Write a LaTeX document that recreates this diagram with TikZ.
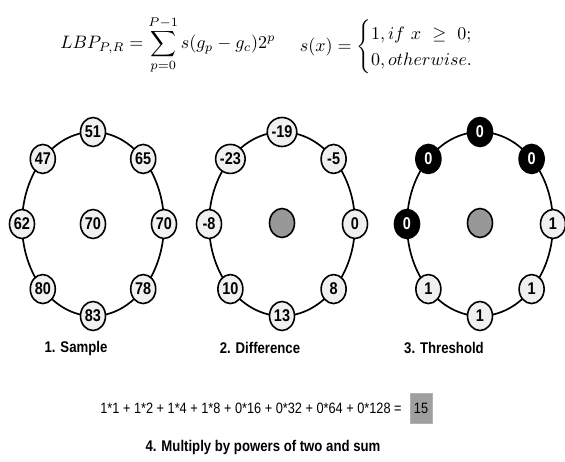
\documentclass[tikz,border=0pt]{standalone}
\usepackage{amsmath}
\usepackage{fontspec}
\newfontfamily\lblfont{Liberation Sans}[FakeStretch=0.85]
\usetikzlibrary{shapes.geometric,positioning}
\begin{document}
\begin{tikzpicture}[x=1pt,y=-1pt,
    ring/.style={draw,line width=1.7pt},
    pix/.style={ellipse,draw,line width=1.6pt,fill=gray!12,minimum width=25pt,
        minimum height=29pt,inner sep=0pt,font=\lblfont\bfseries\fontsize{17}{17}\selectfont},
    pixoff/.style={pix,fill=black,text=white},
    pixmid/.style={pix,fill=gray!85!black!70},
    steplbl/.style={font=\lblfont\bfseries\fontsize{15.5}{16}\selectfont},
    formula/.style={scale=#1,transform shape},
    resbox/.style={draw=gray!60,fill=gray!75,minimum width=22pt,minimum height=30pt,
        inner sep=0pt,font=\lblfont\fontsize{15}{16}\selectfont}]
    \useasboundingbox (0,0) rectangle (565,462);
    \def\rx{71}
    \def\ry{92}
    % formula
    \node[formula=1.8] (lbp) at (168,45)
        {$\displaystyle LBP_{P,R}=\sum_{p=0}^{P-1}s(g_p-g_c)2^p$};
    \node[formula=1.8] (sx) at (396,47)
        {$s(x)=\begin{cases}1, if\ x\ \geq\ 0;\\ 0, otherwise.\end{cases}$};
    % 1. sample
    \draw[ring] (93,224) ellipse ({\rx} and {\ry});
    \node[pix] (sc) at (93,224) {70};
    \foreach \a/\v [count=\i] in {-90/51,-45/65,0/70,45/78,90/83,135/80,180/62,225/47}
        \node[pix] (s\i) at ({93+\rx*cos(\a)},{224+\ry*sin(\a)}) {\v};
    \node[steplbl] (slbl) at (76,348) {1. Sample};
    % 2. difference
    \draw[ring] (282,224) ellipse ({\rx+2} and {\ry});
    \node[pixmid] (dc) at (282,223) {};
    \foreach \a/\v [count=\i] in {-90/-19,-45/-5,0/0,45/8,90/13,135/10,180/-8,225/-23}
        \node[pix] (d\i) at ({282+(\rx+2)*cos(\a)},{224+\ry*sin(\a)}) {\v};
    \node[steplbl] (dlbl) at (260,348) {2. Difference};
    % 3. threshold
    \draw[ring] (480,224) ellipse ({\rx+2} and {\ry});
    \node[pixmid] (tc) at (480,223) {};
    \foreach \a/\v/\st [count=\i] in {-90/0/pixoff,-45/0/pixoff,0/1/pix,45/1/pix,
        90/1/pix,135/1/pix,180/0/pixoff,225/0/pixoff}
        \node[\st] (t\i) at ({480+(\rx+2)*cos(\a)},{224+\ry*sin(\a)}) {\v};
    \node[steplbl] (tlbl) at (444,348) {3. Threshold};
    % 4. sum
    \node[font=\lblfont\fontsize{15}{16}\selectfont] (sum) at (251,408)
        {1*1 + 1*2 + 1*4 + 1*8 + 0*16 + 0*32 + 0*64 + 0*128 =};
    \node[resbox] (res) at (421,408) {15};
    \node[steplbl] (mlbl) at (263,447) {4. Multiply by powers of two and sum};
\end{tikzpicture}
\end{document}
